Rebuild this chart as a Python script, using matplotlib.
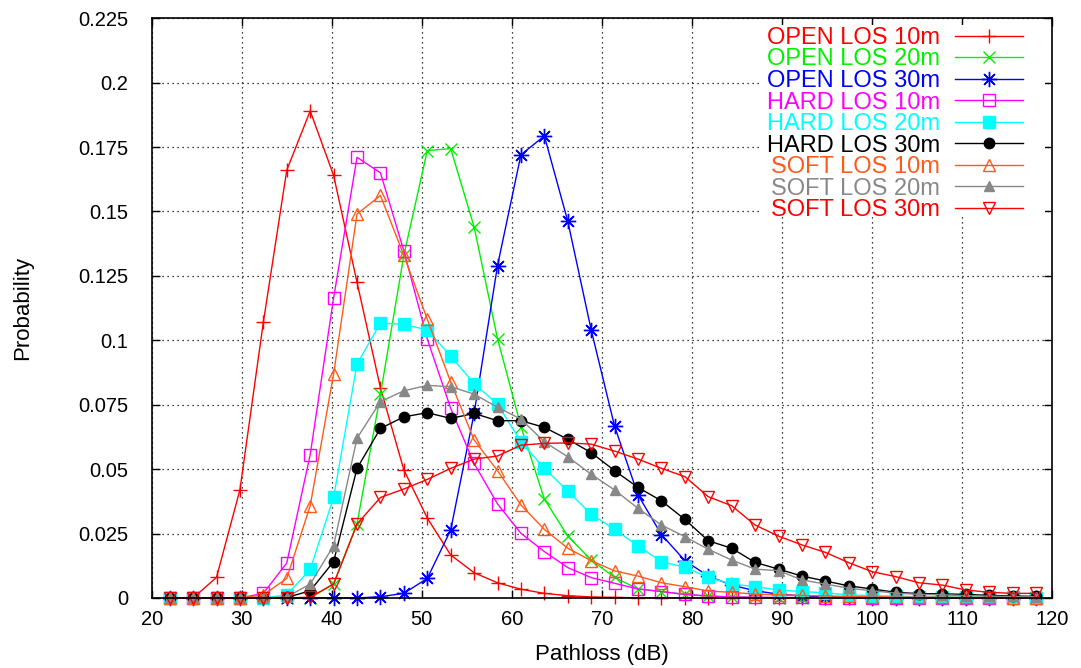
import matplotlib
matplotlib.use("Agg")
import matplotlib.pyplot as plt
from matplotlib.patches import Rectangle
from matplotlib.ticker import FuncFormatter

plt.rcParams['font.family'] = ['Liberation Sans', 'DejaVu Sans']

# Pathloss bins (dB)
pathloss = [22.0, 24.6, 27.2, 29.8, 32.4, 35.0, 37.6, 40.2, 42.8, 45.4,
            48.0, 50.6, 53.2, 55.8, 58.4, 61.0, 63.6, 66.2, 68.8, 71.4,
            74.0, 76.6, 79.2, 81.8, 84.4, 87.0, 89.6, 92.2, 94.8, 97.4,
            100.0, 102.6, 105.2, 107.8, 110.4, 113.0, 115.6, 118.2]

open_10 = [0, 0, 0.008, 0.042, 0.107, 0.166, 0.189, 0.164, 0.1225, 0.0815,
           0.0497, 0.031, 0.0167, 0.0098, 0.0059, 0.0034, 0.0018, 0.0009, 0.0004, 0.0002,
           0.0001, 0.0001, 0, 0, 0, 0, 0, 0, 0, 0,
           0, 0, 0, 0, 0, 0, 0, 0]
open_20 = [0, 0, 0, 0, 0, 0, 0, 0.0055, 0.0287, 0.079,
           0.133, 0.1736, 0.1744, 0.144, 0.1006, 0.0665, 0.0384, 0.024, 0.0147, 0.008,
           0.0035, 0.0025, 0.0014, 0.0007, 0.0004, 0.0002, 0.0001, 0.0001, 0, 0,
           0, 0, 0, 0, 0, 0, 0, 0]
open_30 = [0, 0, 0, 0, 0, 0, 0, 0, 0, 0.0005,
           0.0018, 0.0076, 0.0264, 0.0716, 0.129, 0.172, 0.1793, 0.1462, 0.104, 0.0666,
           0.040, 0.0246, 0.0145, 0.0085, 0.005, 0.0028, 0.0015, 0.0008, 0.0005, 0.0003,
           0.0001, 0.0001, 0, 0, 0, 0, 0, 0]
hard_10 = [0, 0, 0, 0, 0.0018, 0.0136, 0.0556, 0.1164, 0.171, 0.165,
           0.1347, 0.1005, 0.0736, 0.0522, 0.0365, 0.0251, 0.018, 0.0118, 0.0079, 0.0057,
           0.0035, 0.0025, 0.0014, 0.0008, 0.0004, 0.0003, 0.0002, 0.0002, 0.0001, 0.0001,
           0.0001, 0, 0, 0, 0, 0, 0, 0]
hard_20 = [0, 0, 0, 0, 0, 0.0012, 0.0111, 0.039, 0.0908, 0.1067,
           0.1062, 0.104, 0.0939, 0.0832, 0.0752, 0.0606, 0.0503, 0.0415, 0.0325, 0.0266,
           0.0202, 0.0141, 0.0119, 0.008, 0.0054, 0.0044, 0.0031, 0.0025, 0.002, 0.0012,
           0.0009, 0.0007, 0.0005, 0.0004, 0.0003, 0.0002, 0.0002, 0.0001]
hard_30 = [0, 0, 0, 0, 0, 0.0002, 0.0028, 0.0141, 0.0503, 0.0658,
           0.0703, 0.0719, 0.0697, 0.0716, 0.0688, 0.0688, 0.0662, 0.0616, 0.0564, 0.0494,
           0.0429, 0.0377, 0.0305, 0.0222, 0.0193, 0.0138, 0.0112, 0.0085, 0.0066, 0.0047,
           0.0035, 0.0022, 0.0017, 0.0016, 0.0014, 0.001, 0.0008, 0.0006]
soft_10 = [0, 0, 0, 0, 0.0012, 0.0076, 0.0358, 0.0869, 0.149, 0.1562,
           0.133, 0.1082, 0.0838, 0.0613, 0.0494, 0.0361, 0.0266, 0.0193, 0.0145, 0.0105,
           0.0085, 0.0059, 0.0044, 0.0027, 0.0022, 0.0015, 0.0012, 0.001, 0.0008, 0.0006,
           0.0005, 0.0004, 0.0003, 0.0003, 0.0002, 0.0002, 0.0001, 0.0001]
soft_20 = [0, 0, 0, 0, 0, 0.0004, 0.0054, 0.0203, 0.062, 0.0762,
           0.0804, 0.0825, 0.082, 0.0791, 0.074, 0.0694, 0.0606, 0.0548, 0.048, 0.0419,
           0.0348, 0.0283, 0.0238, 0.0189, 0.0147, 0.0112, 0.0106, 0.007, 0.0054, 0.0038,
           0.0028, 0.0019, 0.0014, 0.0012, 0.0009, 0.0007, 0.0006, 0.0005]
soft_30 = [0, 0, 0, 0, 0, 0, 0.0003, 0.0054, 0.0287, 0.039,
           0.0423, 0.046, 0.0503, 0.0539, 0.0551, 0.0593, 0.06, 0.0602, 0.0597, 0.057,
           0.0539, 0.0503, 0.0471, 0.0393, 0.0358, 0.0283, 0.024, 0.0206, 0.0177, 0.0137,
           0.0102, 0.0083, 0.0059, 0.005, 0.0031, 0.0022, 0.0018, 0.0018]

labels = ['OPEN LOS 10m', 'OPEN LOS 20m', 'OPEN LOS 30m',
          'HARD LOS 10m', 'HARD LOS 20m', 'HARD LOS 30m',
          'SOFT LOS 10m', 'SOFT LOS 20m', 'SOFT LOS 30m']
series = [open_10, open_20, open_30, hard_10, hard_20, hard_30, soft_10, soft_20, soft_30]
colors = ['#ff0000', '#00f000', '#0000ff', '#ff00ff', '#00ffff', '#000000',
          '#ff5a1a', '#888888', '#ff0000']
# (marker, size, filled)
styles = [('+', 10, True), ('x', 8, True), ((8, 2, 0), 11, True),
          ('s', 8, False), ('s', 8, True), ('o', 7.5, True),
          ('^', 8.5, False), ('^', 6.5, True), ('v', 8.5, False)]

fig = plt.figure(figsize=(10.81, 6.68), dpi=100)
ax = fig.add_axes([0.1403, 0.1048, 0.8332, 0.868])

for y, lab, c, (m, ms, filled) in zip(series, labels, colors, styles):
    ax.plot(pathloss, y, color=c, lw=1.0, marker=m, ms=ms, mew=1.0,
            mfc=c if filled else 'none', mec=c, label=lab, clip_on=False)

ax.set_xlim(20, 120)
ax.set_ylim(0, 0.225)
ax.set_xticks(range(20, 121, 10))
ax.set_yticks([i * 0.025 for i in range(10)])
ax.yaxis.set_major_formatter(FuncFormatter(lambda v, p: '%g' % round(v, 3)))
ax.tick_params(direction='in', length=5.5, width=1, top=True, right=True,
               labelsize=14.5)
ax.tick_params(axis='y', pad=17)
ax.tick_params(axis='x', pad=8.5)
ax.grid(True, color='black', linestyle=(0, (1, 3)), linewidth=0.9)
for s in ax.spines.values():
    s.set_linewidth(1.2)

# white area behind the key hides the grid there (ticks stay visible)
ax.add_patch(Rectangle((0.675, 0.66), 0.317, 0.328, transform=ax.transAxes,
                       facecolor='white', edgecolor='none', zorder=1.6))

ax.set_xlabel('Pathloss (dB)', fontsize=16)
ax.set_ylabel('Probability', fontsize=16)
ax.xaxis.set_label_coords(0.5, -0.079)
ax.yaxis.set_label_coords(-0.132, 0.5)

leg = ax.legend(loc='upper right', bbox_to_anchor=(0.973, 0.993), markerfirst=False,
                frameon=False, fontsize=17, handlelength=2.9, handletextpad=0.62,
                labelspacing=-0.02, borderaxespad=0, borderpad=0.2)
for t, c in zip(leg.get_texts(), colors):
    t.set_color(c)
# right-align the legend rows
leg._legend_box.get_children()[1].get_children()[0].align = 'right'

fig.savefig('out.png', dpi=100)
